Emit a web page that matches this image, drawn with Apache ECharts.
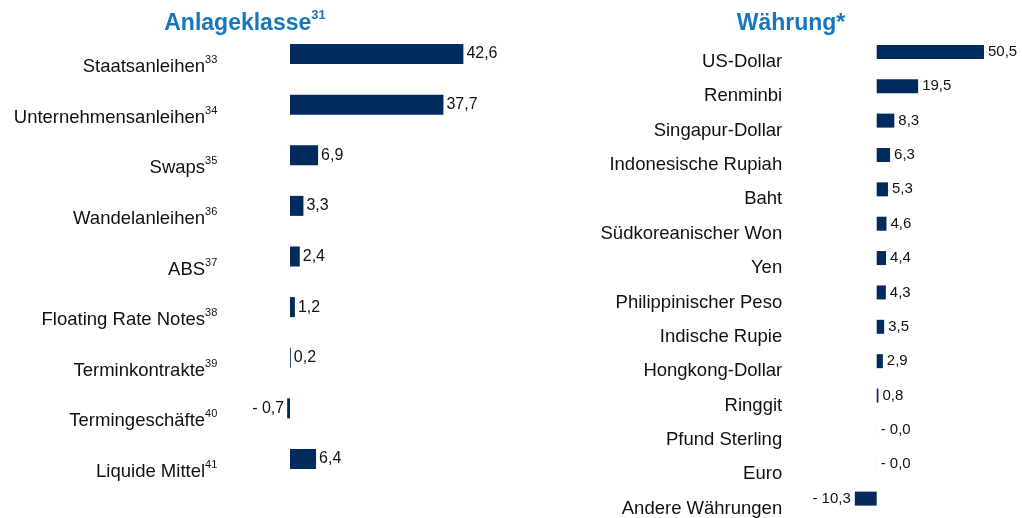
<!DOCTYPE html>
<html>
<head>
<meta charset="utf-8">
<style>
  html, body { margin: 0; padding: 0; background: #fff; }
  #chart { width: 1022px; height: 518px; }
</style>
<script src="https://cdn.jsdelivr.net/npm/echarts@6/dist/echarts.min.js"></script>
</head>
<body>
<div id="chart"></div>
<script>
// Anlageklasse (links)
const assetCats = ['Staatsanleihen', 'Unternehmensanleihen', 'Swaps', 'Wandelanleihen', 'ABS',
  'Floating Rate Notes', 'Terminkontrakte', 'Termingeschäfte', 'Liquide Mittel']
const assetNotes = ['33', '34', '35', '36', '37', '38', '39', '40', '41']
const assetValues = [42.6, 37.7, 6.9, 3.3, 2.4, 1.2, 0.2, -0.7, 6.4]

// Währung (rechts)
const currencyCats = ['US-Dollar', 'Renminbi', 'Singapur-Dollar', 'Indonesische Rupiah', 'Baht',
  'Südkoreanischer Won', 'Yen', 'Philippinischer Peso', 'Indische Rupie', 'Hongkong-Dollar',
  'Ringgit', 'Pfund Sterling', 'Euro', 'Andere Währungen']
const currencyValues = [50.5, 19.5, 8.3, 6.3, 5.3, 4.6, 4.4, 4.3, 3.5, 2.9, 0.8, -0.01, -0.01, -10.3]

const titles = ['Anlageklasse', 'Währung*']
const titleNotes = ['31', '']

const BAR = '#002b5c'
const TITLE = '#1677bd'
const FONT = '"Liberation Sans", Arial, sans-serif'

function fmt(v) {
  const s = Math.abs(v).toFixed(1).replace('.', ',')
  return v < 0 ? '- ' + s : s
}

function barData(values) {
  // fast-null values sit on the right like positive ones
  return values.map(v => ({ value: v, label: { position: v < -0.05 ? 'left' : 'right' } }))
}

const chart = echarts.init(document.getElementById('chart'))

const catLabelRich = {
  n: { fontSize: 18.5, fontFamily: FONT, color: '#111', lineHeight: 22, verticalAlign: 'bottom' },
  s: { fontSize: 11, fontFamily: FONT, color: '#111', lineHeight: 15, verticalAlign: 'top' },
}

chart.setOption({
  animation: false,
  backgroundColor: '#fff',
  title: titles.map((t, i) => ({
    text: titleNotes[i] ? '{t|' + t + '}{s|' + titleNotes[i] + '}' : '{t|' + t + '}',
    left: i === 0 ? 245 : 791,
    top: 9,
    padding: 0,
    textAlign: 'center',
    textStyle: {
      rich: {
        t: { fontSize: 23, fontWeight: 'bold', fontFamily: FONT, color: TITLE, lineHeight: 26, verticalAlign: 'bottom' },
        s: { fontSize: 13, fontWeight: 'bold', fontFamily: FONT, color: TITLE, lineHeight: 19, verticalAlign: 'top' },
      },
    },
  })),
  grid: [
    { left: 249.3, width: 244.2, top: 28.7, height: 455.6 },
    { left: 834.2, width: 170, top: 34.7, height: 484.6 },
  ],
  xAxis: [
    { gridIndex: 0, type: 'value', min: -10, max: 50, show: false },
    { gridIndex: 1, type: 'value', min: -20, max: 60, show: false },
  ],
  yAxis: [
    {
      gridIndex: 0,
      type: 'category',
      inverse: true,
      data: assetCats,
      axisLine: { show: false },
      axisTick: { show: false },
      axisLabel: {
        margin: 32,
        padding: [23, 0, 0, 0],
        formatter: (val, idx) => '{n|' + val + '}{s|' + assetNotes[idx] + '}',
        rich: catLabelRich,
      },
    },
    {
      gridIndex: 1,
      type: 'category',
      inverse: true,
      data: currencyCats,
      axisLine: { show: false },
      axisTick: { show: false },
      axisLabel: {
        margin: 52,
        padding: [17, 0, 0, 0],
        formatter: val => '{n|' + val + '}',
        rich: catLabelRich,
      },
    },
  ],
  series: [
    {
      type: 'bar',
      xAxisIndex: 0,
      yAxisIndex: 0,
      data: barData(assetValues),
      barWidth: 20,
      itemStyle: { color: BAR },
      label: {
        show: true,
        distance: 3,
        fontSize: 16,
        fontFamily: FONT,
        color: '#111',
        formatter: p => fmt(p.value),
      },
    },
    {
      type: 'bar',
      xAxisIndex: 1,
      yAxisIndex: 1,
      data: barData(currencyValues),
      barWidth: 14,
      itemStyle: { color: BAR },
      label: {
        show: true,
        distance: 4,
        fontSize: 15,
        fontFamily: FONT,
        color: '#111',
        formatter: p => fmt(p.value),
      },
    },
  ],
})
</script>
</body>
</html>
